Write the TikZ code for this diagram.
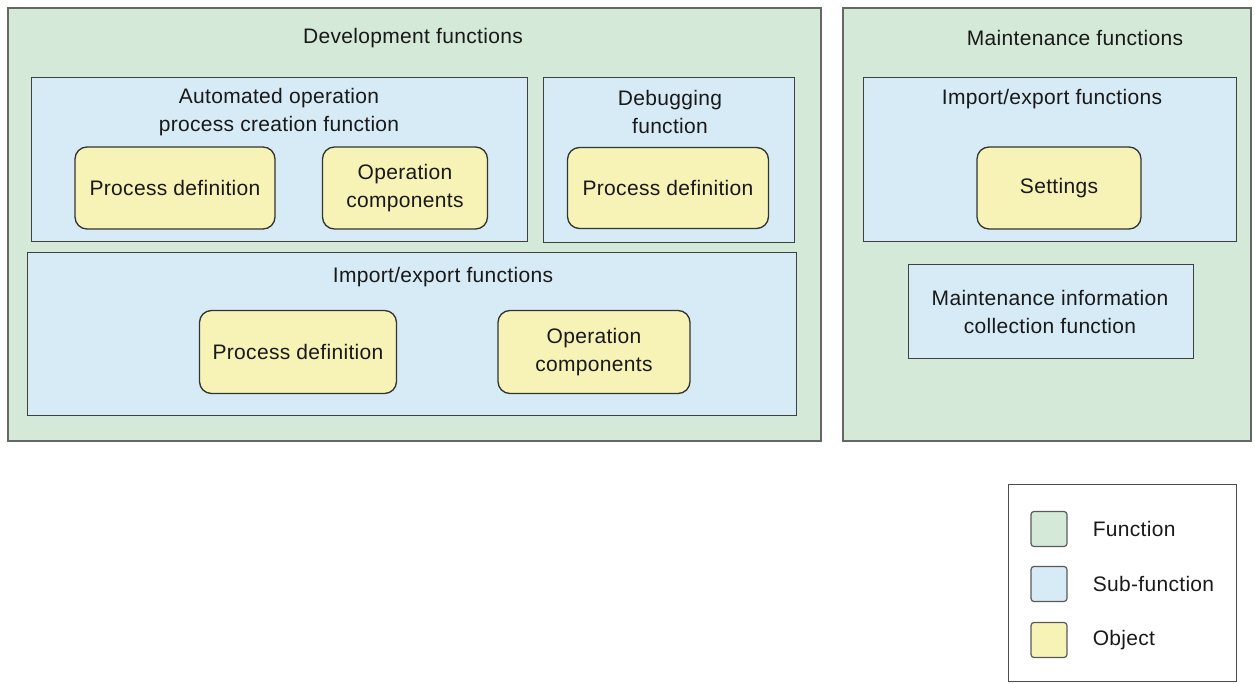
\documentclass[tikz,border=0pt]{standalone}
\usepackage{fontspec}
\setmainfont{Liberation Sans}[LetterSpace=1.5]
\usetikzlibrary{positioning}
\definecolor{funcgreen}{RGB}{212,233,216}
\definecolor{subblue}{RGB}{214,235,246}
\definecolor{objyellow}{RGB}{247,242,182}
\newcommand{\labelfont}{\fontsize{21}{28}\selectfont}
\tikzset{
    %Define style for function areas
    func/.style={
           rectangle,
           draw=black!60, line width=1.6pt,
           fill=funcgreen,
           inner sep=0pt,
           anchor=north west},
    %Define style for sub-function boxes
    subfunc/.style={
           rectangle,
           draw=black!75, line width=1.4pt,
           fill=subblue,
           inner sep=0pt,
           anchor=north west},
    %Define style for objects
    obj/.style={
           rectangle,
           rounded corners=12pt,
           draw=black!80, line width=1.3pt,
           fill=objyellow,
           inner sep=0pt,
           align=center,
           text=black!90,
           font=\labelfont},
    % Define style for titles
    title/.style={
           align=center,
           inner sep=0pt,
           text=black!90,
           font=\labelfont},
    % Define style for legend swatches
    swatch/.style={
           rectangle,
           rounded corners=3pt,
           draw=black!65, line width=1.2pt,
           minimum width=36, minimum height=35,
           inner sep=0pt}
}

\begin{document}
\begin{tikzpicture}[x=1pt, y=-1pt]
 \useasboundingbox (0,0) rectangle (1255,684);
 %function areas
    \node[func, minimum width=813, minimum height=433] (dev) at (7,7) {};
    \node[func, minimum width=408, minimum height=433] (mnt) at (842,7) {};
    \node[title] (devtitle) at (413,38) {Development functions};
    \node[title] (mnttitle) at (1075,38) {Maintenance functions};
 %sub-functions of development
    \node[subfunc, minimum width=496, minimum height=164] (auto) at (31,77) {};
    \node[title] (autotitle) at (279,112) {Automated operation\\process creation function};
    \node[subfunc, minimum width=251, minimum height=165] (debug) at (543,77) {};
    \node[title] (debugtitle) at (670,112) {Debugging\\function};
    \node[subfunc, minimum width=769, minimum height=163] (devio) at (27,252) {};
    \node[title] (deviotitle) at (443,277) {Import/export functions};
 %sub-functions of maintenance
    \node[subfunc, minimum width=373, minimum height=164] (mntio) at (863,77) {};
    \node[title] (mntiotitle) at (1052,99) {Import/export functions};
    \node[subfunc, minimum width=285, minimum height=94] (info) at (908,264) {};
    \node[title] (infotitle) at (1050,312) {Maintenance information\\collection function};
 %objects
    \node[obj, minimum width=200, minimum height=82] (autoproc) at (175,188) {Process definition};
    \node[obj, minimum width=165, minimum height=82] (autocomp) at (405,188) {Operation\\components};
    \node[obj, minimum width=201, minimum height=81] (debugproc) at (668,188) {Process definition};
    \node[obj, minimum width=197, minimum height=83] (ioproc) at (298,352) {Process definition};
    \node[obj, minimum width=192, minimum height=83] (iocomp) at (594,352) {Operation\\components};
    \node[obj, minimum width=164, minimum height=82] (settings) at (1059,188) {Settings};
 %legend
    \node[draw=black!70, line width=1.2pt, inner sep=0pt, anchor=north west,
          minimum width=228, minimum height=197] (legend) at (1008,484) {};
    \node[swatch, fill=funcgreen] (lgfunc) at (1049,529) {};
    \node[swatch, fill=subblue] (lgsub) at (1049,584) {};
    \node[swatch, fill=objyellow] (lgobj) at (1049,640) {};
    \node[title, anchor=west, right=25pt of lgfunc] (lgfunctext) {Function};
    \node[title, anchor=west, right=25pt of lgsub] (lgsubtext) {Sub-function};
    \node[title, anchor=west, right=25pt of lgobj] (lgobjtext) {Object};
\end{tikzpicture}
\end{document}
